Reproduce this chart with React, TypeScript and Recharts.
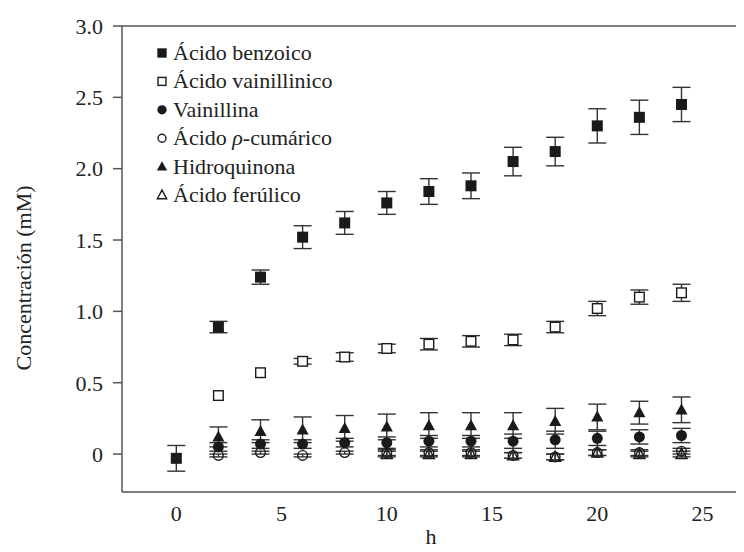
import React from 'react';
import { ScatterChart, Scatter, XAxis, YAxis, ErrorBar, ReferenceLine, Legend, Label } from 'recharts';

const hours = [0, 2, 4, 6, 8, 10, 12, 14, 16, 18, 20, 22, 24];

const benzoicoVals = [-0.03, 0.89, 1.24, 1.52, 1.62, 1.76, 1.84, 1.88, 2.05, 2.12, 2.30, 2.36, 2.45];
const benzoicoErr = [0.09, 0.04, 0.05, 0.08, 0.08, 0.08, 0.09, 0.09, 0.1, 0.1, 0.12, 0.12, 0.12];

const vainillinicoVals = [0.41, 0.57, 0.65, 0.68, 0.74, 0.77, 0.79, 0.80, 0.89, 1.02, 1.10, 1.13];
const vainillinicoErr = [0, 0, 0.02, 0.03, 0.03, 0.04, 0.04, 0.04, 0.04, 0.05, 0.05, 0.06];

const vainillinaVals = [0.05, 0.07, 0.07, 0.08, 0.08, 0.09, 0.09, 0.09, 0.10, 0.11, 0.12, 0.13];
const vainillinaErr = [0.03, 0.03, 0.03, 0.03, 0.04, 0.04, 0.04, 0.05, 0.06, 0.05, 0.05, 0.05];

const cumaricoVals = [-0.01, 0.01, -0.01, 0.01, 0.01, 0.01, 0.01, -0.01, -0.02, 0.01, 0.01, 0.02];
const cumaricoErr = [0.01, 0.01, 0.01, 0.01, 0.02, 0.02, 0.02, 0.02, 0.02, 0.02, 0.02, 0.02];

const hidroquinonaVals = [0.12, 0.16, 0.17, 0.18, 0.19, 0.20, 0.20, 0.20, 0.23, 0.26, 0.29, 0.31];
const hidroquinonaErr = [0.07, 0.08, 0.09, 0.09, 0.09, 0.09, 0.09, 0.09, 0.09, 0.09, 0.08, 0.09];

const ferulicoHours = [10, 12, 14, 16, 18, 20, 22, 24];
const ferulicoVals = [0.0, 0.0, 0.0, -0.01, -0.02, 0.01, 0.0, 0.0];
const ferulicoErr = [0.02, 0.02, 0.02, 0.02, 0.02, 0.02, 0.02, 0.02];

const seriesNames = [
  'Ácido benzoico',
  'Ácido vainillinico',
  'Vainillina',
  'Ácido ρ-cumárico',
  'Hidroquinona',
  'Ácido ferúlico',
];
const seriesKinds = ['squareFilled', 'squareOpen', 'circleFilled', 'circleOpen', 'triFilled', 'triOpen'];

const xTicks = [0, 5, 10, 15, 20, 25];
const yTicks = [0, 0.5, 1, 1.5, 2, 2.5, 3];

const build = (xs: number[], ys: number[], es: number[]) => ys.map((y, i) => ({ x: xs[i], y, e: es[i] }));

const dataBenzoico = build(hours, benzoicoVals, benzoicoErr);
const dataVainillinico = build(hours.slice(1), vainillinicoVals, vainillinicoErr);
const dataVainillina = build(hours.slice(1), vainillinaVals, vainillinaErr);
const dataCumarico = build(hours.slice(1), cumaricoVals, cumaricoErr);
const dataHidroquinona = build(hours.slice(1), hidroquinonaVals, hidroquinonaErr);
const dataFerulico = build(ferulicoHours, ferulicoVals, ferulicoErr);

const INK = '#1a1a1a';
const FONT = "'Liberation Serif', 'Times New Roman', Times, serif";
const textStyle = { fontFamily: FONT };

function Marker({ kind, cx, cy, s = 1 }: { kind: string; cx: number; cy: number; s?: number }) {
  const h = 5.5 * s;
  switch (kind) {
    case 'squareFilled':
      return <rect x={cx - h} y={cy - h} width={2 * h} height={2 * h} fill={INK} />;
    case 'squareOpen':
      return <rect x={cx - h + 0.7} y={cy - h + 0.7} width={2 * h - 1.4} height={2 * h - 1.4} fill="#fff" stroke={INK} strokeWidth={1.4} />;
    case 'circleFilled':
      return <circle cx={cx} cy={cy} r={h} fill={INK} />;
    case 'circleOpen':
      return <circle cx={cx} cy={cy} r={h - 0.7} fill="none" stroke={INK} strokeWidth={1.4} />;
    case 'triFilled':
      return <polygon points={`${cx},${cy - h * 1.15} ${cx - h * 1.1},${cy + h * 0.85} ${cx + h * 1.1},${cy + h * 0.85}`} fill={INK} />;
    case 'triOpen':
      return <polygon points={`${cx},${cy - h * 1.05} ${cx - h},${cy + h * 0.8} ${cx + h},${cy + h * 0.8}`} fill="none" stroke={INK} strokeWidth={1.4} />;
    default:
      return null;
  }
}

const shapeFor = (kind: string) => (props: any) => <Marker kind={kind} cx={props.cx} cy={props.cy} />;

function LegendBox() {
  return (
    <svg width={260} height={175} style={{ display: 'block' }}>
      {seriesNames.map((name, i) => {
        const cy = 15 + i * 28.4;
        const parts = name.split('ρ');
        return (
          <g key={name}>
            <Marker kind={seriesKinds[i]} cx={14} cy={cy} s={0.85} />
            <text x={25} y={cy + 7} style={textStyle} fontSize={22} fill="#222">
              {parts.length > 1 ? (
                <>
                  {parts[0]}
                  <tspan fontStyle="italic">ρ</tspan>
                  {parts[1]}
                </>
              ) : (
                name
              )}
            </text>
          </g>
        );
      })}
    </svg>
  );
}

const errProps = { dataKey: 'e', direction: 'y' as const, width: 9, stroke: '#333', strokeWidth: 1.4 };
const tickStyle = { fontFamily: FONT, fontSize: 22, fill: '#222', style: textStyle };

export default function App() {
  return (
    <div style={{ fontFamily: FONT }}>
      <ScatterChart width={736} height={544} margin={{ top: 18, right: 0, bottom: 0, left: 0 }} style={textStyle}>
        <XAxis
          type="number"
          dataKey="x"
          domain={[-2.58, 26.97]}
          ticks={xTicks}
          allowDataOverflow
          tickLine={false}
          tickSize={0}
          tickMargin={13}
          height={60}
          stroke="#555"
          strokeWidth={1.5}
          tick={tickStyle}
        >
          <Label
            content={() => (
              <text x={423} y={536} textAnchor="middle" style={textStyle} fontSize={22} fill="#222">
                h
              </text>
            )}
          />
        </XAxis>
        <YAxis
          type="number"
          dataKey="y"
          domain={[-0.266, 3]}
          ticks={yTicks}
          allowDataOverflow
          width={114}
          tickSize={9}
          tickMargin={10}
          stroke="#555"
          strokeWidth={1.5}
          tickFormatter={(v: number) => (v === 0 ? '0' : v.toFixed(1))}
          tick={tickStyle}
        >
          <Label
            content={() => (
              <text
                x={15}
                y={270}
                dy={8}
                transform="rotate(-90 15 270)"
                textAnchor="middle"
                style={textStyle}
                fontSize={22}
                fill="#222"
              >
                Concentración (mM)
              </text>
            )}
          />
        </YAxis>
        <ReferenceLine y={3} stroke="#555" strokeWidth={1.5} />
        <Legend
          layout="vertical"
          align="center"
          verticalAlign="middle"
          wrapperStyle={{ left: 140, top: 30, width: 260, height: 175 }}
          content={() => <LegendBox />}
        />
        <Scatter name={seriesNames[5]} data={dataFerulico} isAnimationActive={false} shape={shapeFor('triOpen')}>
          <ErrorBar {...errProps} />
        </Scatter>
        <Scatter name={seriesNames[3]} data={dataCumarico} isAnimationActive={false} shape={shapeFor('circleOpen')}>
          <ErrorBar {...errProps} />
        </Scatter>
        <Scatter name={seriesNames[2]} data={dataVainillina} isAnimationActive={false} shape={shapeFor('circleFilled')}>
          <ErrorBar {...errProps} />
        </Scatter>
        <Scatter name={seriesNames[4]} data={dataHidroquinona} isAnimationActive={false} shape={shapeFor('triFilled')}>
          <ErrorBar {...errProps} />
        </Scatter>
        <Scatter name={seriesNames[1]} data={dataVainillinico} isAnimationActive={false} shape={shapeFor('squareOpen')}>
          <ErrorBar {...errProps} />
        </Scatter>
        <Scatter name={seriesNames[0]} data={dataBenzoico} isAnimationActive={false} shape={shapeFor('squareFilled')}>
          <ErrorBar {...errProps} />
        </Scatter>
      </ScatterChart>
    </div>
  );
}
